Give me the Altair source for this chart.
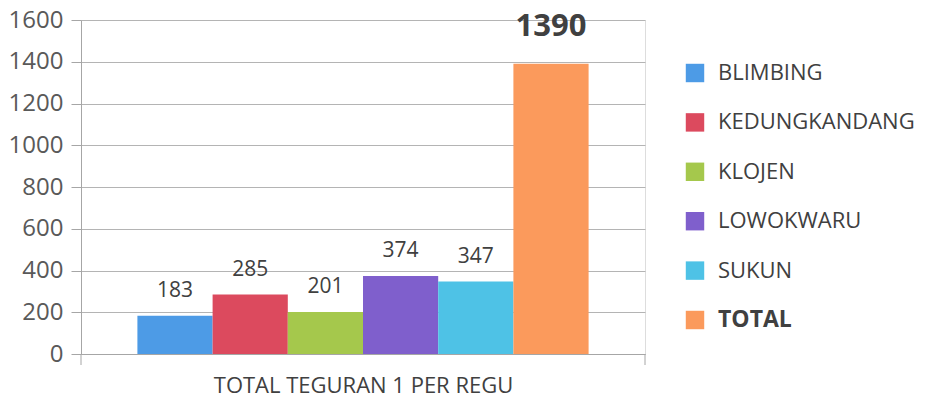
import altair as alt
import pandas as pd

series = ["BLIMBING", "KEDUNGKANDANG", "KLOJEN", "LOWOKWARU", "SUKUN", "TOTAL"]
values = [183, 285, 201, 374, 347, 1390]
colors = ["#4d9be6", "#dc4a5e", "#a5c84c", "#7f5fcc", "#4ec2e6", "#fb9a5c"]
y_ticks = [0, 200, 400, 600, 800, 1000, 1200, 1400, 1600]
category = "TOTAL TEGURAN 1 PER REGU"

df = pd.DataFrame({"series": series, "value": values})

W, H = 564, 334
FONT = "Open Sans"

x_enc = alt.X(
    "series:N",
    sort=series,
    scale=alt.Scale(paddingInner=0, paddingOuter=0.75),
    axis=alt.Axis(
        labels=False, ticks=False, title=category, titleFont=FONT,
        titleFontSize=22, titleFontWeight="normal", titleColor="#404040",
        titlePadding=21, domainColor="#a6a6a6", domainWidth=1,
    ),
)
y_enc = alt.Y(
    "value:Q",
    scale=alt.Scale(domain=[0, 1600], nice=False),
    axis=alt.Axis(
        values=y_ticks, format="d", title=None, labelFont=FONT, labelFontSize=24,
        labelColor="#595959", labelPadding=8, tickSize=10, tickColor="#a6a6a6",
        gridColor="#b4b4b4", domainColor="#a6a6a6",
    ),
)

base = alt.Chart(df).encode(x=x_enc, y=y_enc)

bars = base.mark_bar().encode(
    color=alt.Color(
        "series:N",
        sort=series,
        scale=alt.Scale(domain=series, range=colors),
        legend=alt.Legend(
            title=None, orient="none", legendX=603, legendY=42,
            symbolType="square", symbolSize=340, symbolStrokeWidth=0,
            labelFont=FONT, labelFontSize=alt.ExprRef(expr="datum.label == 'TOTAL' ? 23 : 22"),
            labelFontWeight=alt.ExprRef(expr="datum.label == 'TOTAL' ? 'bold' : 'normal'"),
            labelColor="#404040", labelOffset=12, rowPadding=27.4, padding=0,
            labelLimit=300,
        ),
    )
)

labels = base.mark_text(
    font=FONT, fontSize=21, color="#404040", baseline="alphabetic", dy=-19
).encode(text="value:Q").transform_filter("datum.series != 'TOTAL'")

total_label = base.mark_text(
    font=FONT, fontSize=31, fontWeight="bold", color="#404040",
    baseline="alphabetic", dy=-28,
).encode(text="value:Q").transform_filter("datum.series == 'TOTAL'")

one = alt.Data(values=[{"k": 1}])
tick_left = alt.Chart(one).mark_rule(color="#a6a6a6", strokeWidth=1).encode(
    x=alt.value(0), y=alt.value(H), y2=alt.value(H + 11)
)
tick_right = alt.Chart(one).mark_rule(color="#a6a6a6", strokeWidth=1).encode(
    x=alt.value(W), y=alt.value(H), y2=alt.value(H + 11)
)

chart = alt.layer(bars, labels, total_label, tick_left, tick_right).properties(
    width=W, height=H,
    autosize=alt.AutoSizeParams(type="none"),
    padding={"left": 73, "top": 12, "right": 272, "bottom": 44},
).configure_view(stroke=None).configure(background="white")

chart.save("out.html", embed_options={"renderer": "svg", "actions": False})
